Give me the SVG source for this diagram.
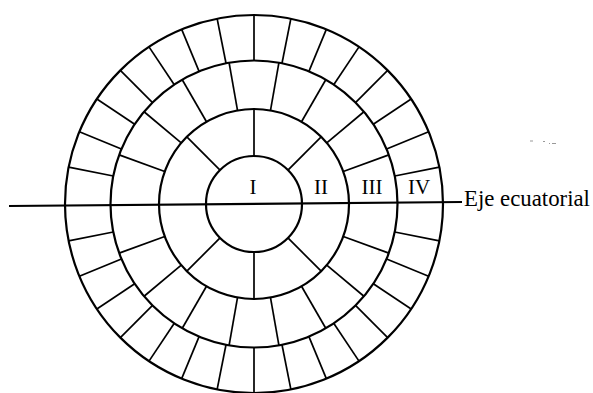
<svg xmlns="http://www.w3.org/2000/svg" width="593" height="393" viewBox="0 0 593 393">
  <style>
    .ring { fill: none; stroke: #000; stroke-width: 2.2; }
    .sp { stroke: #000; stroke-width: 1.7; }
    .lbl { font-family: "Liberation Serif", "Times New Roman", serif; font-size: 21px; fill: #000; text-anchor: middle; }
    .axl { font-family: "Liberation Serif", "Times New Roman", serif; font-size: 22.8px; fill: #000; }
    .speck { fill: #999; }
  </style>
  <defs>
    <line id="s2" class="sp" x1="302" y1="204" x2="349" y2="204"/>
    <line id="s3" class="sp" x1="349" y1="204" x2="397.5" y2="204"/>
    <line id="s4" class="sp" x1="397.5" y1="204" x2="443" y2="204"/>
  </defs>
  <rect width="593" height="393" fill="#fff"/>

  <g id="circles">
    <circle class="ring" cx="254" cy="204" r="48"/>
    <circle class="ring" cx="254" cy="204" r="95"/>
    <circle class="ring" cx="254" cy="204" r="143.5"/>
    <circle class="ring" cx="254" cy="204" r="189"/>
  </g>

  <g id="ring2-spokes">
    <use href="#s2" transform="rotate(-45 254 204)"/>
    <use href="#s2" transform="rotate(-90 254 204)"/>
    <use href="#s2" transform="rotate(-135 254 204)"/>
    <use href="#s2" transform="rotate(-225 254 204)"/>
    <use href="#s2" transform="rotate(-270 254 204)"/>
    <use href="#s2" transform="rotate(-315 254 204)"/>
  </g>

  <g id="ring3-spokes">
    <use href="#s3" transform="rotate(-20 254 204)"/>
    <use href="#s3" transform="rotate(-40 254 204)"/>
    <use href="#s3" transform="rotate(-60 254 204)"/>
    <use href="#s3" transform="rotate(-80 254 204)"/>
    <use href="#s3" transform="rotate(-100 254 204)"/>
    <use href="#s3" transform="rotate(-120 254 204)"/>
    <use href="#s3" transform="rotate(-140 254 204)"/>
    <use href="#s3" transform="rotate(-160 254 204)"/>
    <use href="#s3" transform="rotate(20 254 204)"/>
    <use href="#s3" transform="rotate(40 254 204)"/>
    <use href="#s3" transform="rotate(60 254 204)"/>
    <use href="#s3" transform="rotate(80 254 204)"/>
    <use href="#s3" transform="rotate(100 254 204)"/>
    <use href="#s3" transform="rotate(120 254 204)"/>
    <use href="#s3" transform="rotate(140 254 204)"/>
    <use href="#s3" transform="rotate(160 254 204)"/>
  </g>

  <g id="ring4-spokes">
    <use href="#s4" transform="rotate(-11.25 254 204)"/>
    <use href="#s4" transform="rotate(-22.5 254 204)"/>
    <use href="#s4" transform="rotate(-33.75 254 204)"/>
    <use href="#s4" transform="rotate(-45 254 204)"/>
    <use href="#s4" transform="rotate(-56.25 254 204)"/>
    <use href="#s4" transform="rotate(-67.5 254 204)"/>
    <use href="#s4" transform="rotate(-78.75 254 204)"/>
    <use href="#s4" transform="rotate(-90 254 204)"/>
    <use href="#s4" transform="rotate(-101.25 254 204)"/>
    <use href="#s4" transform="rotate(-112.5 254 204)"/>
    <use href="#s4" transform="rotate(-123.75 254 204)"/>
    <use href="#s4" transform="rotate(-135 254 204)"/>
    <use href="#s4" transform="rotate(-146.25 254 204)"/>
    <use href="#s4" transform="rotate(-157.5 254 204)"/>
    <use href="#s4" transform="rotate(-168.75 254 204)"/>
    <use href="#s4" transform="rotate(11.25 254 204)"/>
    <use href="#s4" transform="rotate(22.5 254 204)"/>
    <use href="#s4" transform="rotate(33.75 254 204)"/>
    <use href="#s4" transform="rotate(45 254 204)"/>
    <use href="#s4" transform="rotate(56.25 254 204)"/>
    <use href="#s4" transform="rotate(67.5 254 204)"/>
    <use href="#s4" transform="rotate(78.75 254 204)"/>
    <use href="#s4" transform="rotate(90 254 204)"/>
    <use href="#s4" transform="rotate(101.25 254 204)"/>
    <use href="#s4" transform="rotate(112.5 254 204)"/>
    <use href="#s4" transform="rotate(123.75 254 204)"/>
    <use href="#s4" transform="rotate(135 254 204)"/>
    <use href="#s4" transform="rotate(146.25 254 204)"/>
    <use href="#s4" transform="rotate(157.5 254 204)"/>
    <use href="#s4" transform="rotate(168.75 254 204)"/>
  </g>

  <g id="axis">
    <line x1="9" y1="206" x2="462" y2="202" stroke="#000" stroke-width="2.2"/>
    <text class="axl" x="464" y="205.5">Eje ecuatorial</text>
  </g>

  <g id="labels">
    <text class="lbl" x="253" y="194">I</text>
    <text class="lbl" x="321" y="194">II</text>
    <text class="lbl" x="372" y="194">III</text>
    <text class="lbl" x="419" y="194">IV</text>
  </g>

  <g id="specks">
    <rect class="speck" x="530" y="140.5" width="3" height="1"/>
    <rect class="speck" x="543" y="141" width="2" height="1"/>
    <rect class="speck" x="549" y="143" width="1" height="1"/>
    <rect class="speck" x="552" y="143" width="4" height="1"/>
  </g>
</svg>
